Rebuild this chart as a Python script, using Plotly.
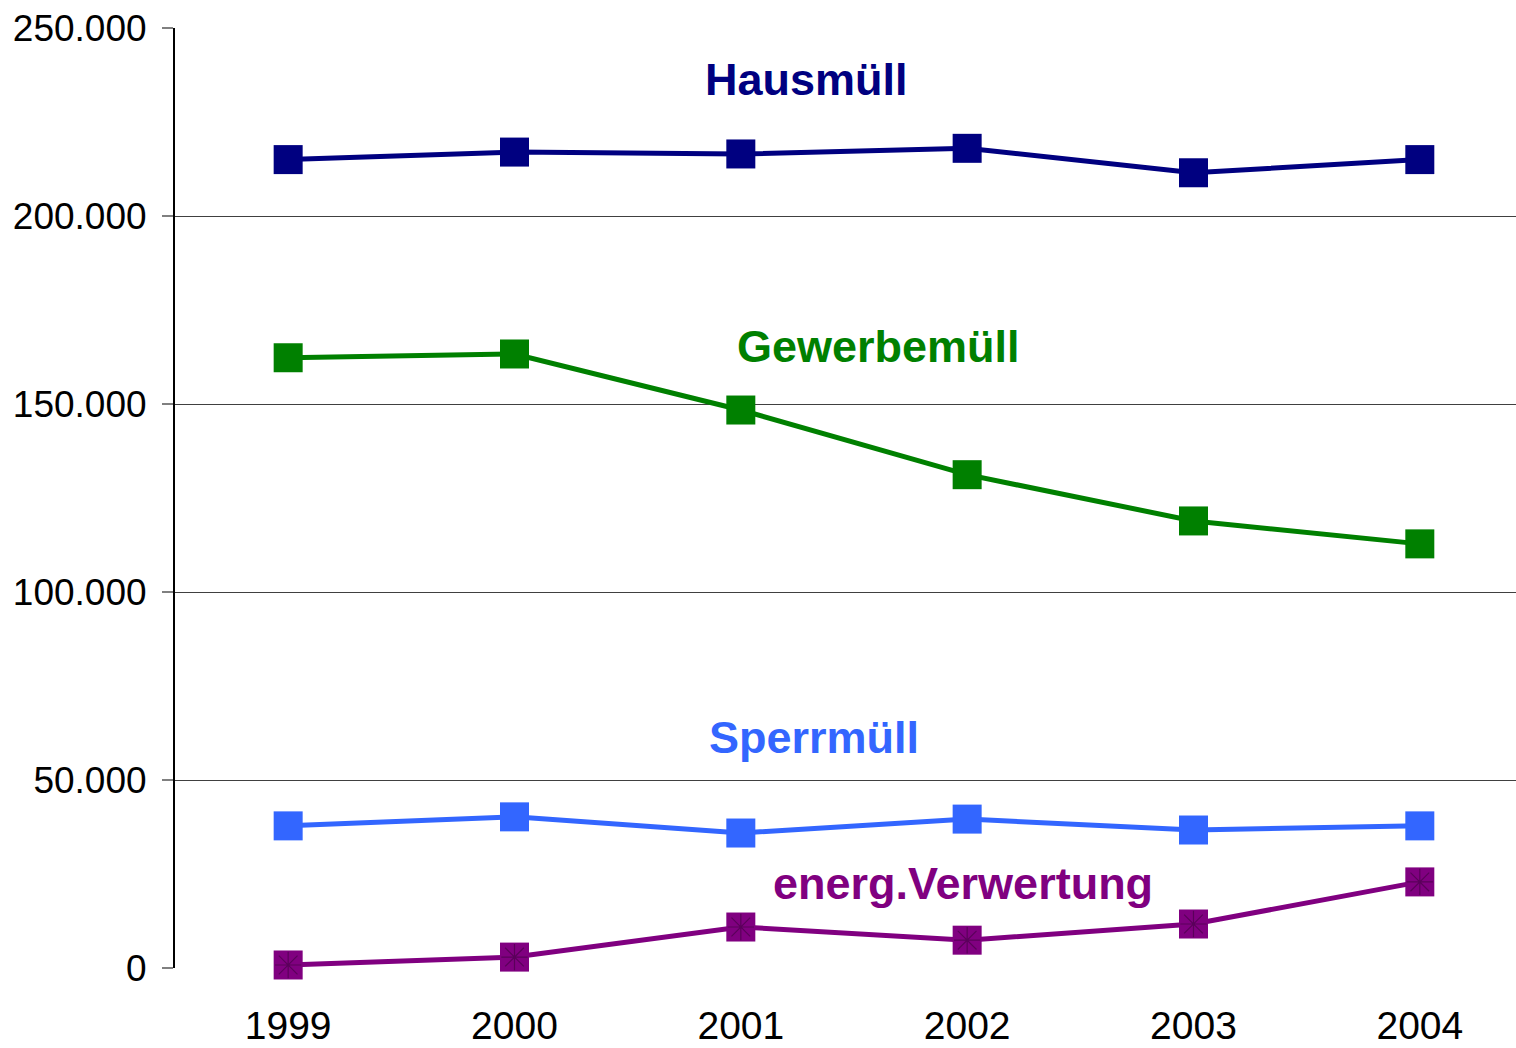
import plotly.graph_objects as go

years = ["1999", "2000", "2001", "2002", "2003", "2004"]
hausmuell = [215000, 217000, 216500, 218000, 211500, 215000]
gewerbemuell = [162300, 163300, 148400, 131200, 118900, 112800]
sperrmuell = [37800, 40200, 35900, 39600, 36700, 37800]
energ = [800, 2900, 10900, 7400, 11700, 22900]

series = [
    ("Hausmüll", hausmuell, "#000080"),
    ("Gewerbemüll", gewerbemuell, "#008000"),
    ("Sperrmüll", sperrmuell, "#3366FF"),
    ("energ.Verwertung", energ, "#800080"),
]

fig = go.Figure()
for name, vals, col in series:
    fig.add_trace(go.Scatter(
        x=years, y=vals, name=name, mode="lines+markers",
        line=dict(color=col, width=5),
        marker=dict(symbol="square", size=29, color=col),
        cliponaxis=False,
    ))
# asterisk overlay for energ.Verwertung
fig.add_trace(go.Scatter(
    x=years, y=energ, mode="markers", showlegend=False,
    marker=dict(symbol="asterisk-open", size=22, color="#5a005a",
                line=dict(color="#5a005a", width=1.2)),
    cliponaxis=False, hoverinfo="skip",
))

labels = [
    ("Hausmüll", 2.288, 236200, "#000080"),
    ("Gewerbemüll", 2.607, 165400, "#008000"),
    ("Sperrmüll", 2.324, 61400, "#3366FF"),
    ("energ.Verwertung", 2.982, 22600, "#800080"),
]
for txt, xx, yy, col in labels:
    fig.add_annotation(x=xx, y=yy, xref="x", yref="y", text="<b>%s</b>" % txt,
                       showarrow=False, font=dict(family="Liberation Sans, Arial", size=45, color=col))

fig.update_layout(
    width=1516, height=1048,
    margin=dict(l=175, r=0, t=28, b=80),
    plot_bgcolor="white", paper_bgcolor="white",
    showlegend=False,
    font=dict(family="Liberation Sans, Arial", size=37, color="black"),
)
fig.update_xaxes(
    type="category", range=[-0.5, 5.425], showgrid=False, showline=False,
    ticks="", ticklabelstandoff=31, zeroline=False, automargin=False,
    tickfont=dict(size=39),
)
fig.update_yaxes(
    range=[0, 250000], tickvals=[0, 50000, 100000, 150000, 200000, 250000],
    ticktext=["0", "50.000", "100.000", "150.000", "200.000", "250.000"],
    showgrid=True, gridcolor="#404040", gridwidth=1.2,
    showline=True, linecolor="black", linewidth=2,
    ticks="outside", ticklen=11, tickcolor="#808080", tickwidth=2,
    ticklabelstandoff=8, zeroline=False, automargin=False,
    tickfont=dict(size=37),
)

fig.write_html("out.html", config={"displayModeBar": False},
               post_script="document.body.style.margin='0';document.body.style.overflow='hidden';")
